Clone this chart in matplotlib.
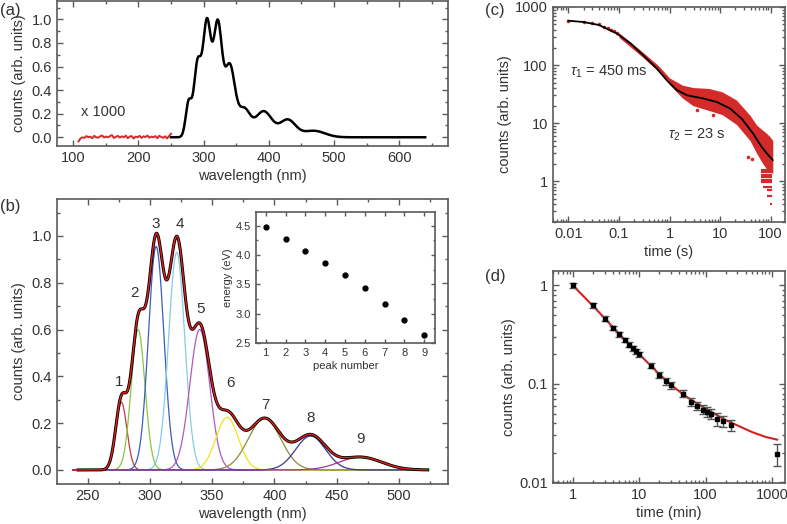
import numpy as np
import matplotlib
matplotlib.use('Agg')
import matplotlib.pyplot as plt
from matplotlib.ticker import MultipleLocator, FormatStrFormatter, LogLocator, NullFormatter

plt.rcParams['font.family'] = ['Liberation Sans', 'DejaVu Sans']
plt.rcParams['font.size'] = 10.5
plt.rcParams['mathtext.fontset'] = 'custom'
plt.rcParams['mathtext.rm'] = 'Liberation Sans'
plt.rcParams['mathtext.it'] = 'Liberation Sans:italic'
TXT = '#333333'
EDGE = '#5a5a5a'
RED = '#d42a2a'
for k in ['text.color', 'axes.labelcolor', 'xtick.labelcolor', 'ytick.labelcolor']:
    plt.rcParams[k] = TXT
plt.rcParams['xtick.color'] = EDGE
plt.rcParams['ytick.color'] = EDGE
plt.rcParams['axes.edgecolor'] = EDGE
plt.rcParams['axes.linewidth'] = 1.2

# ---------------- data ----------------
# gaussian components of the luminescence spectrum (b)
peak_center = [277, 290.5, 305, 321.5, 340, 362, 392, 429, 469]
peak_amp = [0.29, 0.60, 0.955, 0.93, 0.60, 0.225, 0.22, 0.145, 0.055]
peak_sigma = [4.5, 5.5, 6.2, 6.5, 8.0, 9.0, 13.0, 12.0, 17.0]
peak_color = ['#c23a3a', '#8cc63f', '#3a5cc0', '#84cde6', '#b457b8',
              '#f2e222', '#8f8c3a', '#343a96', '#9438a6']
peak_label_x = [275.2, 287.5, 304.3, 324.4, 340.5, 364.6, 392.9, 428.8, 468.7]
peak_label_y = [0.377, 0.758, 1.05, 1.05, 0.687, 0.37, 0.278, 0.221, 0.131]

# inset: peak energies
peak_number = [1, 2, 3, 4, 5, 6, 7, 8, 9]
peak_energy = [4.47, 4.27, 4.07, 3.86, 3.65, 3.43, 3.16, 2.89, 2.64]

# (a) x1000 background below 250 nm
noise_val = [-0.035, -0.01, 0.0, -0.005, 0.01, 0.0, 0.005, -0.008, 0.012, 0.0,
             -0.004, 0.008, 0.015, -0.002, 0.006, 0.0, 0.01, 0.018, -0.006, 0.004,
             0.012, -0.003, 0.008, 0.0, 0.014, -0.008, 0.006, 0.01, -0.01, 0.005,
             0.0, 0.012, -0.005, 0.008, 0.002, 0.015, -0.004, 0.006, 0.0, 0.01,
             -0.008, 0.012, 0.003, -0.005, 0.008, -0.01, 0.01, 0.03]

# (c) decay on short time scale
fit_c_t = [0.01, 0.02, 0.04, 0.09, 0.17, 0.3, 0.56, 0.88, 1.4, 2.2, 3.0, 4.7,
           8.6, 15.8, 27, 45, 66, 84, 110]
fit_c_val = [580, 551, 490, 351, 236, 148, 87, 55, 37, 30.2, 28.6, 26.5,
             23.1, 17.8, 11.8, 6.6, 3.9, 3.0, 2.3]
early_t = [0.01, 0.02, 0.03, 0.04, 0.05, 0.06, 0.07, 0.08, 0.09]
early_val = [585, 548, 525, 500, 455, 430, 405, 380, 355]
band_t = [0.1, 0.3, 0.6, 1.0, 1.8, 2.9, 6, 11, 21, 39, 53, 70, 84, 97, 110]
band_hi = [360, 165, 98, 60, 45, 41, 39.5, 34.5, 25, 13.6, 9.2, 7.5, 6.6, 5.8, 5.0]
band_lo = [300, 135, 78, 46, 27, 20, 16.5, 14, 9.5, 5.0, 3.0, 2.0, 1.6, 1.45, 1.35]
stripe_val = [1.55, 1.41, 1.28, 1.17, 1.05, 0.97, 0.80, 0.69, 0.56, 0.40]
stripe_t0 = [63, 63, 63, 63, 63, 65, 71, 85, 85, 95]
stripe_t1 = [108, 108, 108, 108, 108, 108, 108, 108, 106, 104]
outlier_t = [36, 42, 7.4, 3.5]
outlier_val = [2.63, 2.36, 13.6, 17]

# (d) decay on long time scale
d_t = [1, 2, 3, 4, 5, 6, 7, 8, 9, 10, 15, 20, 25, 30, 45, 60, 75, 90, 105,
       120, 150, 180, 240, 1200]
d_val = [1.0, 0.63, 0.46, 0.37, 0.32, 0.28, 0.25, 0.23, 0.215, 0.2, 0.154,
         0.124, 0.106, 0.097, 0.080, 0.0656, 0.060, 0.055, 0.0524, 0.050,
         0.0442, 0.0418, 0.038, 0.0195]
d_err = [0.065, 0.035, 0.025, 0.02, 0.018, 0.016, 0.015, 0.014, 0.013, 0.012,
         0.010, 0.009, 0.008, 0.008, 0.007, 0.0065, 0.006, 0.006, 0.006,
         0.0058, 0.0065, 0.005, 0.0047, 0.0049]
fit_d_t = [1, 2, 3, 5, 10, 20, 30, 50, 100, 200, 300, 500, 800, 1200]
fit_d_val = [1.0, 0.62, 0.465, 0.32, 0.2, 0.126, 0.098, 0.075, 0.056, 0.043,
             0.038, 0.0325, 0.029, 0.0272]

W, H = 787, 524
TICK = 10.5


def rect(l, t, r, b):
    return [l / W, 1 - b / H, (r - l) / W, (b - t) / H]


def style(ax, size=TICK):
    ax.tick_params(which='both', direction='in', top=True, right=True,
                   labelsize=size, width=1.0)
    ax.tick_params(which='major', length=4.5)
    ax.tick_params(which='minor', length=2.5)


def spectrum(wl):
    s = np.zeros_like(wl)
    for c, a, w in zip(peak_center, peak_amp, peak_sigma):
        s += a * np.exp(-(wl - c) ** 2 / (2 * w ** 2))
    return s


fig = plt.figure(figsize=(W / 100, H / 100), dpi=100)

# ---------------- (a) ----------------
ax_a = fig.add_axes(rect(57, 0.5, 448, 146))
noise_nm = np.linspace(108, 250, len(noise_val))
ax_a.plot(noise_nm, noise_val, color=RED, lw=1.4)
wl_a = np.linspace(250, 640, 800)
ax_a.plot(wl_a, spectrum(wl_a), color='k', lw=1.8)
ax_a.text(146, 0.217, 'x 1000', ha='center', va='center', fontsize=10.5)
ax_a.set_xlim(75, 675)
ax_a.set_ylim(-0.074, 1.16)
ax_a.xaxis.set_major_locator(MultipleLocator(100))
ax_a.xaxis.set_minor_locator(MultipleLocator(50))
ax_a.yaxis.set_major_locator(MultipleLocator(0.2))
ax_a.yaxis.set_minor_locator(MultipleLocator(0.1))
ax_a.yaxis.set_major_formatter(FormatStrFormatter('%.1f'))
ax_a.set_xlabel('wavelength (nm)', labelpad=3)
ax_a.set_ylabel('counts (arb. units)')
style(ax_a)

# ---------------- (b) ----------------
ax_b = fig.add_axes(rect(57, 199, 448, 484))
wl_b = np.linspace(238, 523, 800)
for c, a, w, col in zip(peak_center, peak_amp, peak_sigma, peak_color):
    ax_b.plot(wl_b, a * np.exp(-(wl_b - c) ** 2 / (2 * w ** 2)), color=col, lw=0.9)
wl_data = wl_b[wl_b >= 242]
ax_b.plot(wl_data, spectrum(wl_data), color='k', lw=2.2)
ax_b.plot(wl_b, spectrum(wl_b), color='#e0201e', lw=1.0)
for n, x, y in zip(peak_number, peak_label_x, peak_label_y):
    ax_b.text(x, y, str(n), ha='center', va='center', fontsize=11)
ax_b.set_xlim(225.4, 539.3)
ax_b.set_ylim(-0.06, 1.158)
ax_b.xaxis.set_major_locator(MultipleLocator(50))
ax_b.xaxis.set_minor_locator(MultipleLocator(25))
ax_b.yaxis.set_major_locator(MultipleLocator(0.2))
ax_b.yaxis.set_minor_locator(MultipleLocator(0.1))
ax_b.yaxis.set_major_formatter(FormatStrFormatter('%.1f'))
ax_b.set_xlabel('wavelength (nm)', labelpad=3)
ax_b.set_ylabel('counts (arb. units)')
style(ax_b)

# inset
ax_i = fig.add_axes(rect(256, 212, 435, 343))
ax_i.plot(peak_number, peak_energy, 'o', color='k', ms=3.5)
ax_i.set_xlim(0.51, 9.54)
ax_i.set_ylim(2.5, 4.73)
ax_i.xaxis.set_major_locator(MultipleLocator(1))
ax_i.yaxis.set_major_locator(MultipleLocator(0.5))
ax_i.yaxis.set_minor_locator(MultipleLocator(0.25))
ax_i.yaxis.set_major_formatter(FormatStrFormatter('%.1f'))
ax_i.set_xlabel('peak number', fontsize=8, labelpad=2)
ax_i.set_ylabel('energy (eV)', fontsize=8, labelpad=2)
style(ax_i, size=8)
ax_i.tick_params(which='major', length=3)
ax_i.tick_params(which='minor', length=1.5)

# ---------------- (c) ----------------
ax_c = fig.add_axes(rect(552.7, 7, 785, 221.7))
ax_c.set_xscale('log')
ax_c.set_yscale('log')
ax_c.fill_between(band_t, band_lo, band_hi, color=RED, lw=0)
ax_c.hlines(stripe_val, stripe_t0, stripe_t1, color=RED, lw=1.6)
ax_c.plot(early_t, early_val, 'o', color=RED, ms=2.6, mec='none')
ax_c.plot(outlier_t, outlier_val, 'o', color=RED, ms=2.6, mec='none')
ax_c.plot(fit_c_t, fit_c_val, color='k', lw=1.3)
ax_c.text(0.0108, 77, r'$\tau_1$ = 450 ms', va='center', fontsize=10.5)
ax_c.text(0.95, 6.2, r'$\tau_2$ = 23 s', va='center', fontsize=10.5)
ax_c.set_xlim(0.0049, 192)
ax_c.set_ylim(0.2, 1000)
ax_c.set_xticks([0.01, 0.1, 1, 10, 100])
ax_c.set_xticklabels(['0.01', '0.1', '1', '10', '100'])
ax_c.set_yticks([1, 10, 100, 1000])
ax_c.set_yticklabels(['1', '10', '100', '1000'])
for axis in (ax_c.xaxis, ax_c.yaxis):
    axis.set_minor_locator(LogLocator(base=10, subs=np.arange(2, 10), numticks=20))
    axis.set_minor_formatter(NullFormatter())
ax_c.set_xlabel('time (s)', labelpad=3)
ax_c.set_ylabel('counts (arb. units)', labelpad=2)
style(ax_c)

# ---------------- (d) ----------------
ax_d = fig.add_axes(rect(552.7, 270.5, 785, 483.3))
ax_d.set_xscale('log')
ax_d.set_yscale('log')
ax_d.plot(fit_d_t, fit_d_val, color='#d62020', lw=1.5)
ax_d.errorbar(d_t, d_val, yerr=d_err, fmt='s', ms=2.6, color='k',
              ecolor='#555555', elinewidth=1.0, capsize=3, capthick=1.0)
ax_d.set_xlim(0.494, 1575)
ax_d.set_ylim(0.0098, 1.42)
ax_d.set_xticks([1, 10, 100, 1000])
ax_d.set_xticklabels(['1', '10', '100', '1000'])
ax_d.set_yticks([0.01, 0.1, 1])
ax_d.set_yticklabels(['0.01', '0.1', '1'])
for axis in (ax_d.xaxis, ax_d.yaxis):
    axis.set_minor_locator(LogLocator(base=10, subs=np.arange(2, 10), numticks=20))
    axis.set_minor_formatter(NullFormatter())
ax_d.set_xlabel('time (min)', labelpad=3)
ax_d.set_ylabel('counts (arb. units)', labelpad=2)
style(ax_d)

# panel letters
for lab, x, y in [('(a)', 0, 10), ('(b)', 0, 206), ('(c)', 485, 11), ('(d)', 485, 276)]:
    fig.text(x / W, 1 - y / H, lab, ha='left', va='center', fontsize=12)

fig.savefig('out.png', dpi=100)
